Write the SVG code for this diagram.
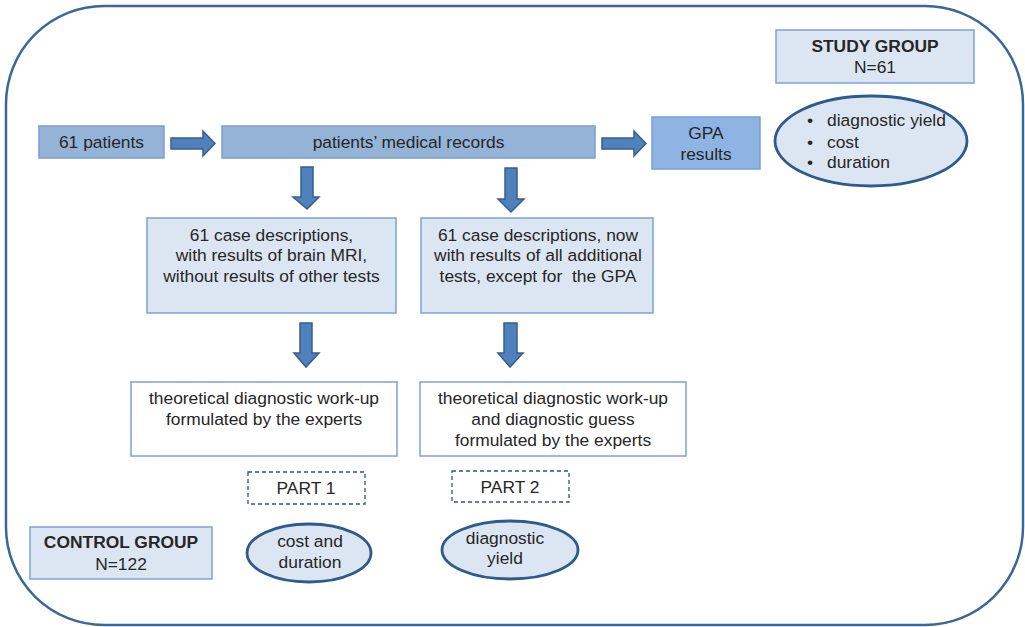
<svg xmlns="http://www.w3.org/2000/svg" width="1025" height="627" viewBox="0 0 1025 627">
<style>
text{font-family:"Liberation Sans",Arial,sans-serif;font-size:17.4px;fill:#262626;text-anchor:middle}
.b{font-weight:bold}
.l{text-anchor:start}
.mid{fill:#95b3d7;stroke:#7a9fd3;stroke-width:1.5}
.gpa{fill:#8eb4e3;stroke:#7a9fd3;stroke-width:1.5}
.light{fill:#dce6f2;stroke:#7ea3d6;stroke-width:1.5}
.white{fill:#fff;stroke:#7ea3d6;stroke-width:1.5}
.dash{fill:#fff;stroke:#2c5585;stroke-width:1.3;stroke-dasharray:4 3}
.ell{fill:#dce6f2;stroke:#2f5b8c;stroke-width:2.8}
.arr{fill:#4f81bd;stroke:#385d8a;stroke-width:1.5}
</style>
<rect x="6" y="6" width="1017" height="619" rx="98" ry="98" fill="#fff" stroke="#3b6798" stroke-width="2.5"/>
<g id="connectors">
<path class="arr" d="M171,138 H203 V131 L215,143.5 L203,156 V149 H171 Z"/>
<path class="arr" d="M602,138 H634 V131 L646,143.5 L634,156 V149 H602 Z"/>
<path class="arr" d="M301,167 H313 V197 H319 L307,209 L293,197 H301 Z"/>
<path class="arr" d="M505,168 H517 V199 H524 L511,212 L498,199 H505 Z"/>
<path class="arr" d="M300,323 H312 V353 H319 L306,367 L294,353 H300 Z"/>
<path class="arr" d="M504,323 H517 V353 H523 L510,367 L498,353 H504 Z"/>
</g>
<g id="patients">
<rect class="mid" x="39" y="126" width="125" height="32"/>
<text x="101.5" y="148">61 patients</text>
</g>
<g id="records">
<rect class="mid" x="222" y="126" width="373" height="32"/>
<text x="408.5" y="148">patients’ medical records</text>
</g>
<g id="gpa">
<rect class="gpa" x="652" y="117" width="108" height="52"/>
<text x="706" y="139">GPA</text>
<text x="706" y="160">results</text>
</g>
<g id="study-group">
<rect class="light" x="776" y="30" width="198" height="53"/>
<text class="b" x="875" y="52">STUDY GROUP</text>
<text x="875" y="73">N=61</text>
</g>
<g id="study-outcomes">
<ellipse class="ell" cx="871" cy="141" rx="96" ry="45"/>
<text x="810" y="126">•</text>
<text x="810" y="148">•</text>
<text x="810" y="168">•</text>
<text class="l" x="827" y="126">diagnostic yield</text>
<text class="l" x="827" y="148">cost</text>
<text class="l" x="827" y="168">duration</text>
</g>
<g id="case1">
<rect class="light" x="147" y="218" width="249" height="95"/>
<text x="271.5" y="241">61 case descriptions,</text>
<text x="271.5" y="261">with results of brain MRI,</text>
<text x="271.5" y="282">without results of other tests</text>
</g>
<g id="case2">
<rect class="light" x="421" y="218" width="232" height="95"/>
<text x="538" y="241">61 case descriptions, now</text>
<text x="538" y="261">with results of all additional</text>
<text x="538" y="282">tests, except for &#160;the GPA</text>
</g>
<g id="workup1">
<rect class="white" x="131" y="382" width="266" height="74"/>
<text x="264" y="404">theoretical diagnostic work-up</text>
<text x="264" y="425">formulated by the experts</text>
</g>
<g id="workup2">
<rect class="white" x="420" y="382" width="266" height="74"/>
<text x="553" y="404">theoretical diagnostic work-up</text>
<text x="553" y="425">and diagnostic guess</text>
<text x="553" y="446">formulated by the experts</text>
</g>
<g id="part1">
<rect class="dash" x="248" y="472" width="117" height="32"/>
<text x="306" y="494">PART 1</text>
</g>
<g id="part2">
<rect class="dash" x="452" y="471" width="117" height="31"/>
<text x="510" y="493">PART 2</text>
</g>
<g id="control-group">
<rect class="light" x="30" y="527" width="182" height="52"/>
<text class="b" x="121" y="548">CONTROL GROUP</text>
<text x="121" y="570">N=122</text>
</g>
<g id="cost-duration">
<ellipse class="ell" cx="309" cy="553" rx="62" ry="29"/>
<text x="310" y="547">cost and</text>
<text x="310" y="568">duration</text>
</g>
<g id="yield">
<ellipse class="ell" cx="510" cy="550" rx="68" ry="29"/>
<text x="505" y="544">diagnostic</text>
<text x="505" y="564">yield</text>
</g>
</svg>
